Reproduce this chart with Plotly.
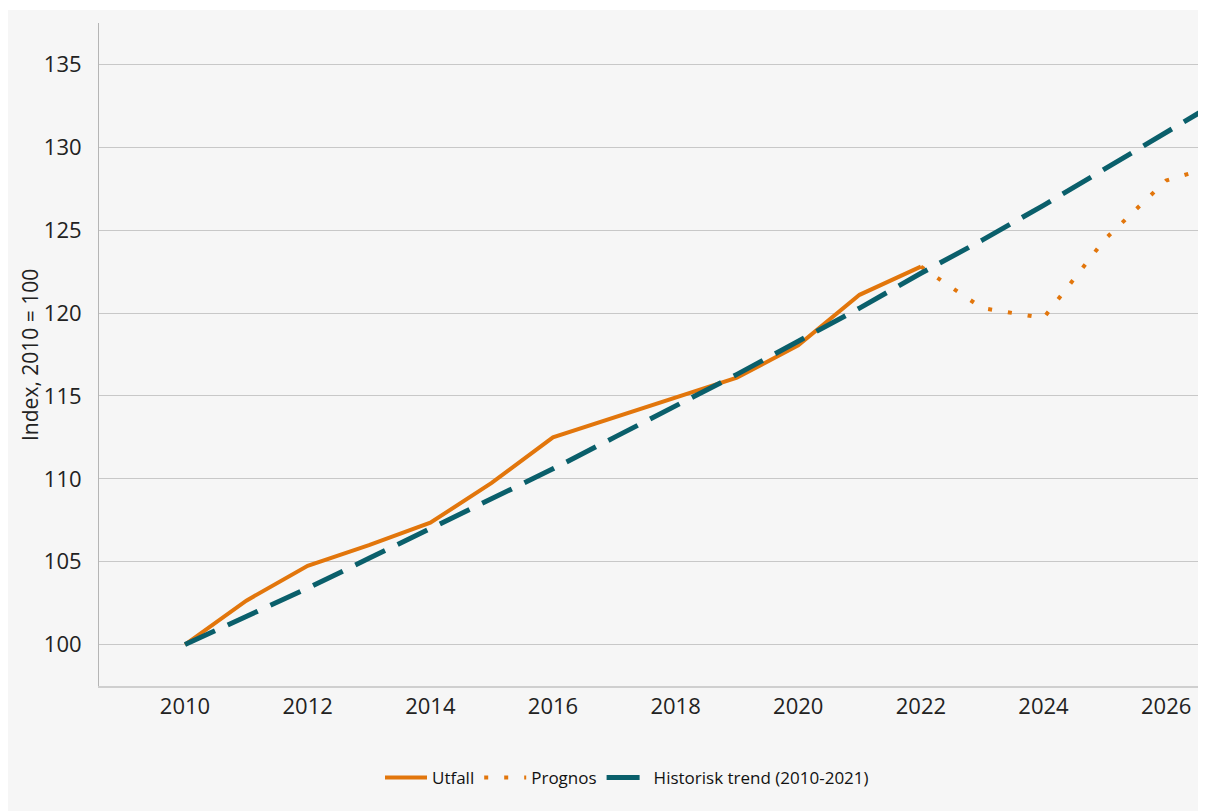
import plotly.graph_objects as go

years_actual = [2010, 2011, 2012, 2013, 2014, 2015, 2016, 2017, 2018, 2019, 2020, 2021, 2022]
utfall = [100.0, 102.65, 104.75, 106.0, 107.35, 109.75, 112.5, 113.7, 114.9, 116.1, 118.05, 121.1, 122.8]

years_prog = [2022, 2023, 2024, 2025, 2026, 2027]
prognos = [122.8, 120.3, 119.7, 124.45, 128.0, 129.1]

years_trend = list(range(2010, 2028))
trend = [100.0, 101.7, 103.4, 105.2, 107.0, 108.8, 110.6, 112.5, 114.4, 116.3,
         118.3, 120.3, 122.4, 124.4, 126.5, 128.7, 130.9, 133.1]

x_ticks = [2010, 2012, 2014, 2016, 2018, 2020, 2022, 2024, 2026]
y_ticks = [100, 105, 110, 115, 120, 125, 130, 135]

ORANGE = "#E2760C"
TEAL = "#0A5F6B"
BG = "#F6F6F6"
FONT = "Open Sans"
TXT = "#222222"

# figure is offset 8px by the page's body margin and runs off the right edge
W, H = 1206, 811
ML, MR, MT, MB = 91, 0, 15, 133
PW, PH = W - ML - MR, H - MT - MB

fig = go.Figure()
fig.add_trace(go.Scatter(x=years_actual, y=utfall, mode="lines", name="Utfall",
                         line=dict(color=ORANGE, width=4)))
fig.add_trace(go.Scatter(x=years_prog, y=prognos, mode="lines", name="Prognos",
                         line=dict(color=ORANGE, width=4, dash="4px,16px")))
fig.add_trace(go.Scatter(x=years_trend, y=trend, mode="lines", name="Historisk trend (2010-2021)",
                         line=dict(color=TEAL, width=5, dash="33px,14px")))

# gray panel (leaves a thin white strip at the very top)
fig.add_shape(type="rect", xref="paper", yref="paper", layer="below",
              x0=-(ML + 2) / PW, x1=1.0 + 10 / PW,
              y0=-(MB + 10) / PH, y1=1.0 + (MT - 2) / PH,
              fillcolor=BG, line=dict(width=0))

fig.add_annotation(text="Index, 2010 = 100", textangle=-90, xref="paper", yref="paper",
                   x=(22 - ML) / PW, y=(MT + PH - 347) / PH, showarrow=False,
                   font=dict(family=FONT, size=21, color=TXT),
                   xanchor="center", yanchor="middle")

fig.update_layout(
    width=W, height=H,
    margin=dict(l=ML, r=MR, t=MT, b=MB),
    paper_bgcolor="white", plot_bgcolor=BG,
    font=dict(family=FONT, size=17, color=TXT),
    showlegend=True,
    legend=dict(orientation="h", x=(627 - 8 - ML) / PW, xanchor="center",
                y=-(770 - (MT + PH)) / PH, yanchor="middle", itemwidth=42,
                font=dict(family=FONT, size=17, color="#111111"), bgcolor="rgba(0,0,0,0)"),
    xaxis=dict(range=[2008.597, 2026.78], tickvals=x_ticks, showgrid=False, zeroline=False,
               showline=True, linecolor="#CFCFCF", linewidth=2, ticks="",
               tickfont=dict(family=FONT, size=22, color=TXT), ticklabelstandoff=0),
    yaxis=dict(range=[97.5, 137.5], tickvals=y_ticks, showgrid=True, gridcolor="#C8C8C8",
               gridwidth=1, zeroline=False, showline=True, linecolor="#B5B5B5", linewidth=1,
               ticks="", tickfont=dict(family=FONT, size=22, color=TXT),
               ticklabelstandoff=12),
)

fig.write_html("out.html")
